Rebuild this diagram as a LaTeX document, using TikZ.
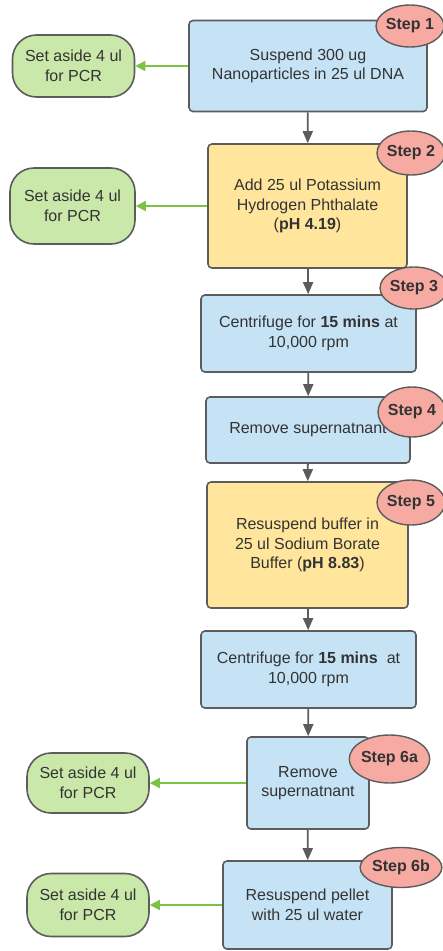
\documentclass[tikz,border=0pt]{standalone}
\usepackage{fontspec}
\setmainfont{Liberation Sans}
\usetikzlibrary{shapes.geometric, arrows.meta}

\definecolor{boxblue}{HTML}{C6E3F6}
\definecolor{boxyellow}{HTML}{FFE69C}
\definecolor{asidegreen}{HTML}{C9E8A9}
\definecolor{tagred}{HTML}{F6AAA2}
\definecolor{edgegray}{HTML}{5C5C5C}
\definecolor{linkgreen}{HTML}{7CC246}
\definecolor{txtgray}{HTML}{333333}

\begin{document}
\begin{tikzpicture}[x=1pt, y=-1pt,
	every node/.style={text=txtgray, font=\fontsize{16}{19.5}\selectfont, align=center, inner sep=0pt},
	bluebox/.style={shape=rectangle, rounded corners=4pt, draw=edgegray, line width=1.6pt, fill=boxblue},
	yellowbox/.style={bluebox, fill=boxyellow},
	pcrbox/.style={shape=rectangle, rounded corners=24pt, draw=edgegray, line width=1.6pt, fill=asidegreen, minimum width=122pt},
	steptag/.style={shape=ellipse, draw=edgegray, line width=1.4pt, fill=tagred, font=\fontsize{16}{19.5}\selectfont\bfseries},
	flow/.style={-{Triangle[length=12pt,width=10pt]}, line width=1.8pt, draw=edgegray},
	aside/.style={-{Triangle[length=10pt,width=10pt]}, line width=1.6pt, draw=linkgreen}]
	\useasboundingbox (0,0) rectangle (443,951);

	% main column
	\node[bluebox, minimum width=238pt, minimum height=91pt] (S1) at (308,66) {Suspend 300 ug\\Nanoparticles in 25 ul DNA};
	\node[yellowbox, minimum width=199pt, minimum height=124pt] (S2) at (307.5,206) {Add 25 ul Potassium\\Hydrogen Phthalate\\(\textbf{pH 4.19})};
	\node[bluebox, minimum width=215pt, minimum height=77pt] (S3) at (308.5,333.5) {Centrifuge for \textbf{15 mins} at\\10,000 rpm};
	\node[bluebox, minimum width=204pt, minimum height=66pt] (S4) at (308,430) {Remove supernatnant};
	\node[yellowbox, minimum width=201pt, minimum height=126pt] (S5) at (307.5,545) {Resuspend buffer in\\25 ul Sodium Borate\\Buffer (\textbf{pH 8.83})};
	\node[bluebox, minimum width=215pt, minimum height=77pt] (S5b) at (308.5,669.5) {Centrifuge for \textbf{15 mins}\ \ at\\10,000 rpm};
	\node[bluebox, minimum width=122pt, minimum height=92pt] (S6a) at (308,783) {Remove\\supernatnant};
	\node[bluebox, minimum width=169pt, minimum height=88pt] (S6b) at (307.5,905) {Resuspend pellet\\with 25 ul water};

	% samples kept for PCR
	\node[pcrbox, minimum height=62pt] (P1) at (73.5,66) {Set aside 4 ul\\for PCR};
	\node[pcrbox, minimum width=125pt, minimum height=76pt] (P2) at (72.5,206) {Set aside 4 ul\\for PCR};
	\node[pcrbox, minimum height=60pt] (P3) at (88,783) {Set aside 4 ul\\for PCR};
	\node[pcrbox, minimum height=63pt] (P4) at (88,905) {Set aside 4 ul\\for PCR};

	\draw [flow] (S1) -- (S2);
	\draw [flow] (S2) -- (S3);
	\draw [flow] (S3) -- (S4);
	\draw [flow] (S4) -- (S5);
	\draw [flow] (S5) -- (S5b);
	\draw [flow] (S5b) -- (S6a);
	\draw [flow] (S6a) -- (S6b);

	\draw [aside] (S1) -- (P1);
	\draw [aside] (S2) -- (P2);
	\draw [aside] (S6a) -- (P3);
	\draw [aside] (S6b) -- (P4);

	% step tags
	\node[steptag, minimum width=66pt, minimum height=42pt] (T1) at (410,26) {Step 1};
	\node[steptag, minimum width=66pt, minimum height=44pt] (T2) at (411,153) {Step 2};
	\node[steptag, minimum width=62pt, minimum height=42pt] (T3) at (414,288) {Step 3};
	\node[steptag, minimum width=62pt, minimum height=50pt] (T4) at (412,412) {Step 4};
	\node[steptag, minimum width=64pt, minimum height=45pt] (T5) at (411,502.5) {Step 5};
	\node[steptag, minimum width=75pt, minimum height=48pt] (T6a) at (389.5,759) {Step 6a};
	\node[steptag, minimum width=76pt, minimum height=40pt] (T6b) at (401,867.5) {Step 6b};
\end{tikzpicture}
\end{document}
